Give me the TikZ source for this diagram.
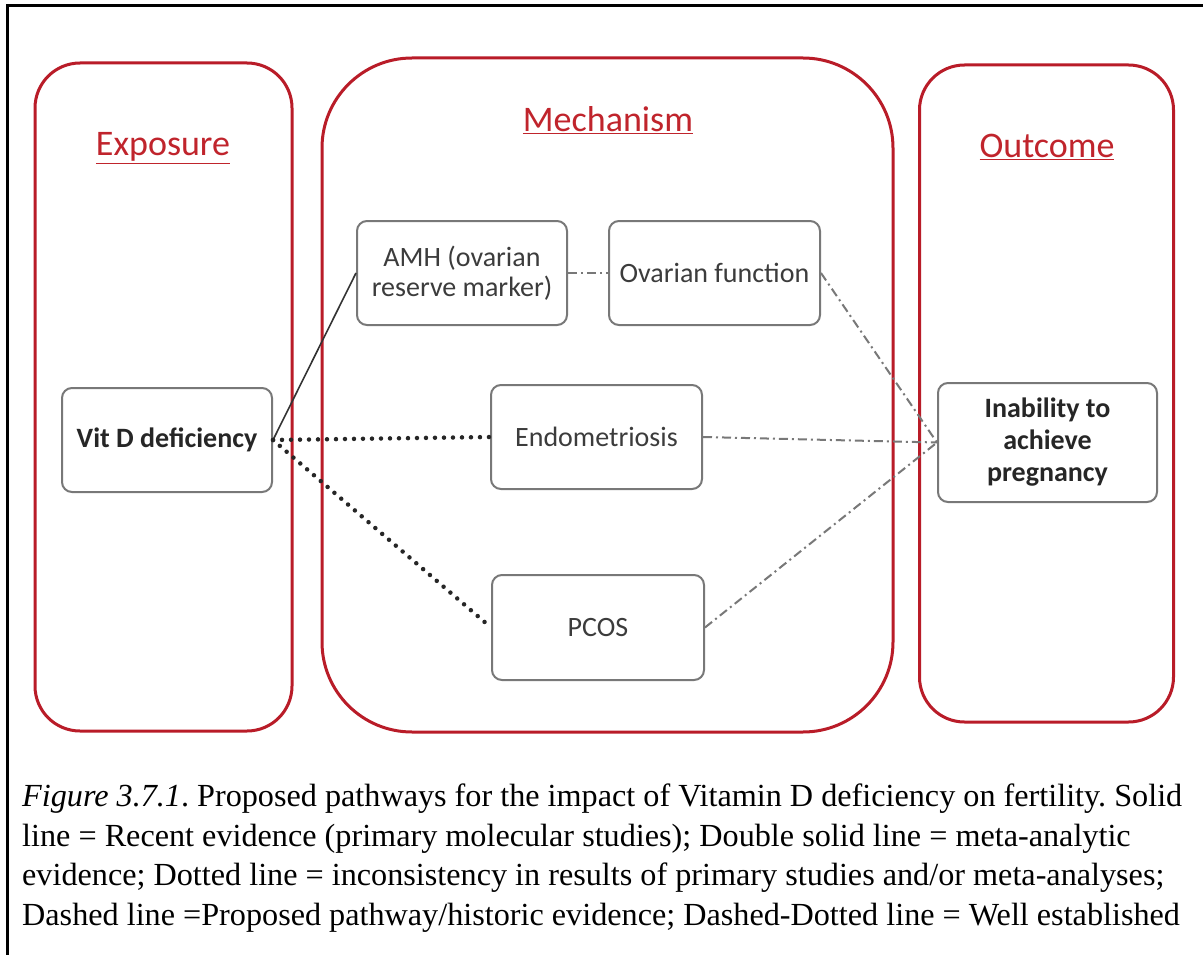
\documentclass[tikz,border=0pt]{standalone}
\usepackage{fontspec}
\setmainfont{Liberation Serif}
\newfontfamily\calibri{Carlito}
\definecolor{redline}{RGB}{185,28,40}
\definecolor{redtext}{RGB}{192,36,44}
\definecolor{boxgray}{RGB}{120,120,120}
\definecolor{textgray}{RGB}{60,60,60}
\tikzset{
  groupbox/.style={draw=redline, line width=3pt, inner sep=0pt},
  grouptitle/.style={text=redtext, font=\calibri\fontsize{36}{40}\selectfont, inner sep=0pt},
  itembox/.style={draw=boxgray, line width=2pt, rounded corners=10pt, align=center,
    text=textgray, font=\calibri\fontsize{28}{30}\selectfont, inner sep=0pt},
  boldbox/.style={itembox, text=black!85, font=\calibri\bfseries\fontsize{28}{32}\selectfont},
  solidlink/.style={draw=black!80, line width=1.6pt},
  dotlink/.style={draw=black!85, line width=4.5pt, line cap=round, dash pattern=on 0pt off 9pt},
  dashdotlink/.style={draw=boxgray, line width=2pt, dash pattern=on 9pt off 4pt on 2pt off 4pt},
  captionline/.style={anchor=base west, inner sep=0pt, font=\fontsize{32.2}{40}\selectfont}
}
\frenchspacing
\begin{document}
\begin{tikzpicture}[x=1pt,y=-1pt]
\useasboundingbox (0,0) rectangle (1203,955);
\fill[white] (0,0) rectangle (1203,955);
\draw[line width=3pt] (7,6) rectangle (1220,975);

% group boxes
\node[groupbox, rounded corners=45pt, minimum width=257pt, minimum height=668pt] (expo) at (163.5,397) {};
\node[groupbox, rounded corners=90pt, minimum width=571pt, minimum height=674pt] (mech) at (607.5,395) {};
\node[groupbox, rounded corners=45pt, minimum width=254pt, minimum height=657pt] (outc) at (1046.5,393.5) {};

% titles
\node[grouptitle] (t1) at (163,148) {\underline{Exposure}};
\node[grouptitle] (t2) at (608,120) {\underline{Mechanism}};
\node[grouptitle] (t3) at (1047,147) {\underline{Outcome}};

% items
\node[boldbox, minimum width=210pt, minimum height=104pt] (vitd) at (167,440) {Vit D deficiency};
\node[itembox, minimum width=210pt, minimum height=104pt] (amh) at (462,273) {AMH (ovarian\\reserve marker)};
\node[itembox, minimum width=211pt, minimum height=104pt] (ovar) at (714.5,273) {Ovarian function};
\node[itembox, minimum width=211pt, minimum height=104pt] (endo) at (596.5,437) {Endometriosis};
\node[itembox, minimum width=212pt, minimum height=105pt] (pcos) at (598,627.5) {PCOS};
\node[boldbox, minimum width=219pt, minimum height=119pt] (inab) at (1047.5,442.5) {Inability to\\achieve\\pregnancy};

% links
\draw[solidlink] (vitd.east) -- (amh.west);
\draw[dotlink] (vitd.east) -- (endo.west);
\draw[dotlink] (vitd.east) -- (pcos.west);
\draw[dashdotlink] (amh.east) -- (ovar.west);
\draw[dashdotlink] (ovar.east) -- (inab.west);
\draw[dashdotlink] (endo.east) -- (inab.west);
\draw[dashdotlink] (pcos.east) -- (inab.west);

% caption
\node[captionline] (c1) at (22,806) {\textit{Figure 3.7.1}. Proposed pathways for the impact of Vitamin D deficiency on fertility. Solid};
\node[captionline] (c2) at (22,846) {line = Recent evidence (primary molecular studies); Double solid line = meta-analytic};
\node[captionline] (c3) at (22,885) {evidence; Dotted line = inconsistency in results of primary studies and/or meta-analyses;};
\node[captionline] (c4) at (22,925) {Dashed line =Proposed pathway/historic evidence; Dashed-Dotted line = Well established};
\end{tikzpicture}
\end{document}
